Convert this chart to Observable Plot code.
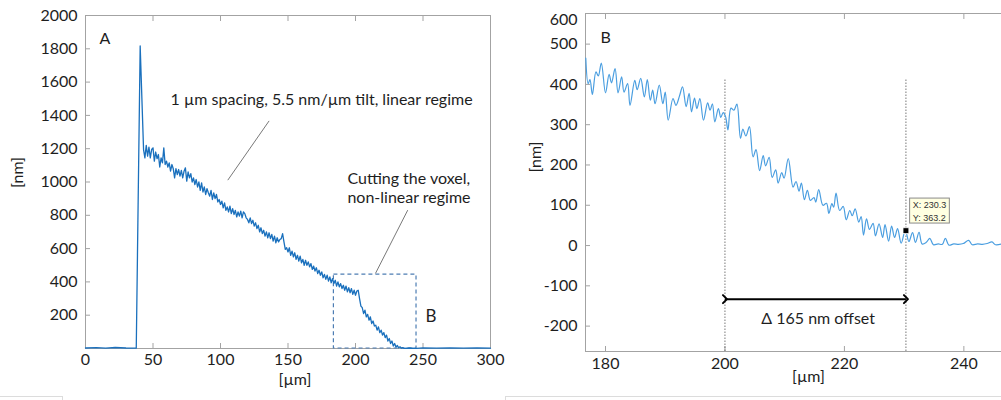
<!DOCTYPE html>
<html><head><meta charset="utf-8">
<script src="https://cdn.jsdelivr.net/npm/d3@7"></script>
<script src="https://cdn.jsdelivr.net/npm/@observablehq/plot@0.6"></script>
<style>
body{margin:0;background:#fff;}
#wrap{position:relative;width:1001px;height:400px;overflow:hidden;font-family:Lato,sans-serif;background:#fff;}
#a{position:absolute;left:0;top:0;}
#b{position:absolute;left:500px;top:0;}
.ln{position:absolute;background:#dcdcdc;}
</style></head><body>
<div id="wrap"><div id="a"></div><div id="b"></div>
<div class="ln" style="left:0;top:396px;width:62px;height:1px"></div>
<div class="ln" style="left:62px;top:396px;width:1px;height:4px"></div>
<div class="ln" style="left:505px;top:396px;width:496px;height:1px"></div>
<div class="ln" style="left:505px;top:396px;width:1px;height:4px"></div>
</div>
<script>
// ---------- Panel A data (µm, nm) ----------
const leftX = [0,8,15,22,30,37.6,40.5,
43,44,45,46,47,48,49,50,51,52,53,54,55,56,57,58,59,60,61,62,63,64,65,66,67,68,69,70,
71,72,73,74,75,76,77,78,79,80,81,82,83,84,85,86,87,88,89,90,91,92,93,94,95,96,97,98,99,100,
101,102,103,104,105,106,107,108,109,110,111,112,113,114,115,116,117,118,119,120,121,122,123,124,125,
126,127,128,129,130,131,132,133,134,135,136,137,138,139,140,141,142,143,144,145,146,147,148,149,150,
151,152,153,154,155,156,157,158,159,160,161,162,163,164,165,166,167,168,169,170,171,172,173,174,175,
176,177,178,179,180,181,182,183,184,185,186,187,188,189,190,191,192,193,194,195,196,197,198,199,200,
201,202,203,204,205,206,207,208,209,210,211,212,213,214,215,216,217,218,219,220,221,222,223,224,225,
226,227,228,229,230,231,232,233,234,235,236,240,245,250,260,270,280,290,300];
const leftY = [3,5,2,6,3,2,1817,
1195,1145,1220,1155,1210,1145,1195,1205,1125,1180,1140,1165,1090,1145,1115,1205,1105,1125,1090,1115,1065,1105,1080,1025,1080,1045,1075,1035,
1070,1025,1065,1085,1005,1060,1025,1050,1000,1025,985,1015,970,1000,950,995,940,970,925,960,935,915,950,895,935,900,925,880,895,865,
885,845,875,830,850,820,855,810,840,805,830,790,820,795,825,785,820,810,785,775,755,785,750,770,735,
755,720,740,700,725,690,710,675,700,665,695,660,685,645,675,635,665,640,655,660,690,640,595,605,580,
605,560,585,550,575,535,560,525,555,515,535,500,530,500,520,490,510,475,495,465,485,450,470,440,460,
425,445,415,440,405,430,395,420,390,410,375,400,370,390,360,380,350,375,340,365,335,360,325,350,320,
345,350,300,255,245,210,230,190,205,170,190,150,165,135,140,110,130,95,110,80,95,65,80,45,60,
30,45,15,30,8,18,4,10,2,5,1,3,1,4,2,4,2,3,2];
const xTicksA = [0,50,100,150,200,250,300];
const yTicksA = [200,400,600,800,1000,1200,1400,1600,1800,2000];

// ---------- Panel B data (µm, nm) ----------
const rightX = [176.7,177.1,177.4,177.8,178.4,178.8,179.3,180.0,180.6,181.0,181.6,182.1,182.7,183.1,183.7,184.1,184.9,185.3,185.9,186.5,
187.0,187.5,187.9,188.3,189.0,189.6,190.0,190.5,191.3,191.8,192.4,192.9,193.5,194.0,194.4,194.9,195.3,195.8,196.4,197.1,
197.5,197.9,198.3,198.9,199.3,199.7,200.1,200.5,201.0,201.5,202.0,202.6,203.0,203.5,204.1,204.7,205.2,205.8,206.4,206.8,
207.4,207.9,208.5,208.9,209.5,209.9,210.6,211.4,211.9,212.4,212.8,213.3,213.8,214.3,214.9,215.2,215.7,216.4,217.0,217.4,
217.9,218.2,218.6,219.2,219.8,220.3,220.9,221.3,221.8,222.4,222.8,223.2,223.7,224.2,224.8,225.2,225.8,226.4,226.8,227.4,
227.9,228.4,228.9,229.5,230.2,230.8,231.4,231.9,232.5,233.0,233.7,234.3,234.9,235.7,236.4,236.9,237.5,238.3,239.1,239.9,
240.8,241.4,242.3,243.1,243.9,244.7,245.3,246.3];
const rightY = [465,402,412,375,431,421,453,379,425,404,439,379,419,381,402,348,410,387,415,369,
412,361,386,352,398,352,381,311,365,348,372,394,345,378,332,366,340,365,311,354,
336,352,307,340,318,330,320,287,341,336,351,266,289,272,295,220,238,186,223,198,
219,169,188,155,181,167,216,145,159,135,155,114,137,112,119,108,139,100,105,80,
104,95,130,87,97,64,87,74,91,58,72,26,66,40,55,24,54,20,52,11,
48,20,42,6,38,10,32,8,33,4,8,18,2,4,3,18,1,4,3,5,
13,2,4,3,5,9,2,4];
const xTicksB = [180,200,220,240];
const yTicksB = [-200,-100,0,100,200,300,400,500];
const yTopLabelB = ["600"];
const offsetStart = 200;
const offsetEnd = 230.3;
const tipPoint = [{x: 230.3, y: 37}];
const tipLines = ["X: 230.3", "Y: 363.2"];

// ---------- Styles ----------
const axisGray = "#a3a3a3";
const textCol = "#1e1e1e";
const font = "Lato, 'Open Sans', sans-serif";
const fmt = d => String(d);

const dataA = leftX.map((x, i) => ({x, y: leftY[i]}));
const dataB = rightX.map((x, i) => ({x, y: rightY[i]}));

const A = Plot.plot({
  width: 500, height: 400,
  marginLeft: 85, marginRight: 10, marginTop: 15, marginBottom: 52,
  style: {fontFamily: font, fontSize: "16px", color: textCol, background: "transparent", overflow: "visible"},
  x: {domain: [0, 300], label: null},
  y: {domain: [0, 2000], label: null},
  marks: [
    Plot.frame({stroke: axisGray}),
    Plot.axisX(xTicksA, {anchor: "bottom", tickSize: -5, stroke: axisGray, fill: "none", label: null}),
    Plot.axisX(xTicksA, {anchor: "top", tickSize: -5, stroke: axisGray, fill: "none", label: null}),
    Plot.axisY(yTicksA, {anchor: "left", tickSize: -5, stroke: axisGray, fill: "none", label: null}),
    Plot.axisX(xTicksA, {anchor: "bottom", tickSize: 0, tickPadding: 5, label: null, fill: textCol, tickFormat: fmt}),
    Plot.axisY(yTicksA, {anchor: "left", tickSize: 0, tickPadding: 8, label: null, fill: textCol, tickFormat: fmt}),
    Plot.text(["[µm]"], {text: d => d, frameAnchor: "bottom", dx: 7, dy: 36, fontSize: 16, fill: textCol}),
    Plot.text(["[nm]"], {text: d => d, frameAnchor: "left", rotate: -90, dx: -68, dy: 6, fontSize: 16, fill: textCol}),
    Plot.rect([{x1: 184, x2: 245.2, y1: 0, y2: 444}], {x1: "x1", x2: "x2", y1: "y1", y2: "y2", fill: "none", stroke: "#4d7db3", strokeWidth: 1.2, strokeDasharray: "4,3"}),
    Plot.line(dataA, {x: "x", y: "y", stroke: "#1a70bd", strokeWidth: 1.3}),
    Plot.text(["A"], {text: d => d, frameAnchor: "top-left", dx: 14, dy: 17, fontSize: 16, fill: textCol}),
    Plot.text(["1 µm spacing, 5.5 nm/µm tilt, linear regime"], {text: d => d, x: 63, y: 1491, textAnchor: "start", fontSize: 16, fill: textCol}),
    Plot.link([{x1: 136, y1: 1367, x2: 105.4, y2: 1011}], {x1: "x1", y1: "y1", x2: "x2", y2: "y2", stroke: "#555", strokeWidth: 0.8}),
    Plot.text(["Cutting the voxel,\nnon-linear regime"], {text: d => d, x: 194, y: 969, textAnchor: "start", lineHeight: 1.2, fontSize: 16, fill: textCol}),
    Plot.link([{x1: 238.7, y1: 831, x2: 214.8, y2: 451}], {x1: "x1", y1: "y1", x2: "x2", y2: "y2", stroke: "#555", strokeWidth: 0.8}),
    Plot.text(["B"], {text: d => d, x: 256, y: 190, fontSize: 17, fill: textCol})
  ]
});
document.getElementById("a").appendChild(A);

const xDomB = [176.65, 246.3];
const yDomB = [-263, 576];
const B = Plot.plot({
  width: 501, height: 400,
  marginLeft: 85, marginRight: 0, marginTop: 13, marginBottom: 49,
  style: {fontFamily: font, fontSize: "16px", color: textCol, background: "transparent", overflow: "visible"},
  x: {domain: xDomB, label: null},
  y: {domain: yDomB, label: null},
  marks: [
    Plot.ruleX([xDomB[0]], {stroke: axisGray}),
    Plot.ruleY([yDomB[0]], {stroke: axisGray}),
    Plot.ruleY([yDomB[1]], {stroke: axisGray}),
    Plot.axisX(xTicksB, {anchor: "bottom", tickSize: -5, stroke: axisGray, fill: "none", label: null}),
    Plot.axisX(xTicksB, {anchor: "top", tickSize: -5, stroke: axisGray, fill: "none", label: null}),
    Plot.axisY(yTicksB, {anchor: "left", tickSize: -5, stroke: axisGray, fill: "none", label: null}),
    Plot.axisX(xTicksB, {anchor: "bottom", tickSize: 0, tickPadding: 6, label: null, fill: textCol, tickFormat: fmt}),
    Plot.axisY(yTicksB, {anchor: "left", tickSize: 0, tickPadding: 8, label: null, fill: textCol, tickFormat: fmt}),
    Plot.text(yTopLabelB, {text: d => d, frameAnchor: "top-left", dx: -8, textAnchor: "end", fontSize: 16, fill: textCol}),
    Plot.text(["[µm]"], {text: d => d, frameAnchor: "bottom", dx: 15, dy: 30, fontSize: 16, fill: textCol}),
    Plot.text(["[nm]"], {text: d => d, frameAnchor: "left", rotate: -90, dx: -50, dy: -10, fontSize: 16, fill: textCol}),
    Plot.ruleX([offsetStart, offsetEnd], {y1: yDomB[0], y2: 412, stroke: "#555", strokeWidth: 0.8, strokeDasharray: "1.5,1.5"}),
    Plot.line(dataB, {x: "x", y: "y", stroke: "#4a9ee0", strokeWidth: 1.2, curve: "catmull-rom", clip: true}),
    Plot.link([{x1: offsetStart, x2: offsetEnd, y: -133}], {x1: "x1", x2: "x2", y1: "y", y2: "y", stroke: "#000", strokeWidth: 2, markerStart: "arrow", markerEnd: "arrow"}),
    Plot.text(["Δ 165 nm offset"], {text: d => d, x: 215.6, y: -182, fontSize: 16, fill: textCol}),
    Plot.rect([{x1: 231.0, x2: 237.65, y1: 54.6, y2: 116.6}], {x1: "x1", x2: "x2", y1: "y1", y2: "y2", fill: "#ffffe1", stroke: "#8a8a8a", strokeWidth: 1}),
    Plot.text([tipLines[0]], {text: d => d, x: 231.45, y: 100.5, textAnchor: "start", fontSize: 9, fill: "#333", fontFamily: "Liberation Sans, Arial, sans-serif"}),
    Plot.text([tipLines[1]], {text: d => d, x: 231.45, y: 67, textAnchor: "start", fontSize: 9, fill: "#333", fontFamily: "Liberation Sans, Arial, sans-serif"}),
    Plot.dot(tipPoint, {x: "x", y: "y", symbol: "square", r: 3.3, fill: "#000", stroke: "#fff", strokeWidth: 0.8}),
    Plot.text(["B"], {text: d => d, frameAnchor: "top-left", dx: 15, dy: 18, fontSize: 16, fill: textCol})
  ]
});
document.getElementById("b").appendChild(B);
</script>
</body></html>
